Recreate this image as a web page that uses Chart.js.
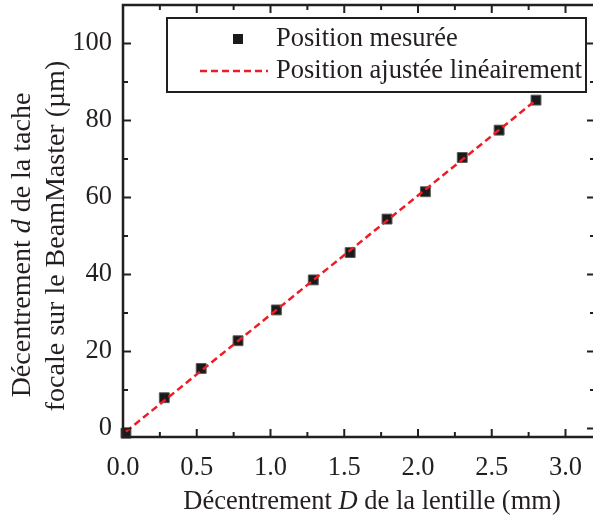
<!DOCTYPE html>
<html lang="fr">
<head>
<meta charset="UTF-8">
<title>Décentrement de la tache focale</title>
<script src="https://cdn.jsdelivr.net/npm/chart.js"></script>
<style>
  html, body { margin: 0; padding: 0; background: #fff; overflow: hidden; }
  /* la mise en page de Chart.js garde 8 px en haut : on remonte le canevas de 3 px */
  #wrap { position: relative; width: 603px; height: 526px; margin-top: -3px; }
</style>
</head>
<body>
<div id="wrap"><canvas id="chart" width="603" height="526"></canvas></div>
<script>
// mesures : D (mm) et d (µm)
const decentrD = [0.02, 0.28, 0.53, 0.78, 1.04, 1.29, 1.54, 1.79, 2.05, 2.30, 2.55, 2.80];
const decentrd = [-1.2, 8.0, 15.6, 22.8, 30.8, 38.6, 45.7, 54.4, 61.5, 70.4, 77.5, 85.3];
// droite ajustée (extrémités)
const fitD = [0.02, 2.80];
const fitd = [-0.8, 85.3];

const xTicks = [0, 0.5, 1.0, 1.5, 2.0, 2.5, 3.0];
const xMinor = [0.25, 0.75, 1.25, 1.75, 2.25, 2.75];
const yTicks = [0, 20, 40, 60, 80, 100];
const yMinor = [10, 30, 50, 70, 90];

const ink = '#231f20';
const serif = "'Liberation Serif', 'Times New Roman', serif";
const fontSize = 26.5;
const yTitleSize = 28;

function richWidth(ctx, parts, size) {
    let w = 0;
    parts.forEach(p => {
        ctx.font = (p.i ? 'italic ' : '') + size + 'px ' + serif;
        w += ctx.measureText(p.t).width;
    });
    return w;
}

function drawRich(ctx, parts, cx, cy, size) {
    let x = cx - richWidth(ctx, parts, size) / 2;
    ctx.textAlign = 'left';
    ctx.textBaseline = 'middle';
    parts.forEach(p => {
        ctx.font = (p.i ? 'italic ' : '') + size + 'px ' + serif;
        ctx.fillText(p.t, x, cy);
        x += ctx.measureText(p.t).width;
    });
}

const framePlugin = {
    id: 'frame',
    afterDraw(chart) {
        const { ctx, chartArea: a, scales } = chart;
        const x = scales.x, y = scales.y;
        ctx.save();
        ctx.strokeStyle = ink;
        ctx.fillStyle = ink;

        // ticks vers l'intérieur, sur les 4 côtés
        ctx.lineWidth = 2;
        const xt = (v, len) => {
            const px = x.getPixelForValue(v);
            ctx.beginPath();
            ctx.moveTo(px, a.bottom); ctx.lineTo(px, a.bottom - len);
            ctx.moveTo(px, a.top); ctx.lineTo(px, a.top + len);
            ctx.stroke();
        };
        const yt = (v, len) => {
            const py = y.getPixelForValue(v);
            ctx.beginPath();
            ctx.moveTo(a.left, py); ctx.lineTo(a.left + len, py);
            ctx.moveTo(a.right, py); ctx.lineTo(a.right - len, py);
            ctx.stroke();
        };
        xTicks.forEach(v => xt(v, 8));
        xMinor.forEach(v => xt(v, 5));
        yTicks.forEach(v => yt(v, 8));
        yMinor.forEach(v => yt(v, 5));

        ctx.lineWidth = 2.5;
        ctx.strokeRect(a.left, a.top, a.right - a.left, a.bottom - a.top);

        // titres des axes
        drawRich(ctx, [
            { t: 'Décentrement ' }, { t: 'D', i: true }, { t: ' de la lentille (mm)' }
        ], 372, a.bottom + 65, fontSize);

        ctx.save();
        ctx.translate(0, a.top + 235);
        ctx.rotate(-Math.PI / 2);
        drawRich(ctx, [
            { t: 'Décentrement ' }, { t: 'd', i: true }, { t: ' de la tache' }
        ], -5, 23, yTitleSize);
        drawRich(ctx, [{ t: 'focale sur le BeamMaster (µm)' }], 4, 57, yTitleSize);
        ctx.restore();

        // légende
        const lx = a.left + 44, ly = a.top + 13, lw = 419, lh = 74;
        ctx.fillStyle = '#fff';
        ctx.fillRect(lx, ly, lw, lh);
        ctx.lineWidth = 2;
        ctx.strokeRect(lx, ly, lw, lh);

        const pts = chart.data.datasets[1];
        ctx.fillStyle = pts.backgroundColor;
        ctx.fillRect(lx + 66, ly + 16, 10, 10);

        const fit = chart.data.datasets[0];
        ctx.strokeStyle = fit.borderColor;
        ctx.lineWidth = fit.borderWidth;
        ctx.setLineDash(fit.borderDash);
        ctx.beginPath();
        ctx.moveTo(lx + 33, ly + 53);
        ctx.lineTo(lx + 101, ly + 53);
        ctx.stroke();
        ctx.setLineDash([]);

        ctx.fillStyle = ink;
        ctx.font = fontSize + 'px ' + serif;
        ctx.textAlign = 'left';
        ctx.textBaseline = 'middle';
        ctx.fillText(pts.label, lx + 109, ly + 21);
        ctx.fillText(fit.label, lx + 109, ly + 53);
        ctx.restore();
    }
};

function draw() {
    new Chart(document.getElementById('chart'), {
        type: 'scatter',
        data: {
            datasets: [
                {
                    type: 'line',
                    label: 'Position ajustée linéairement',
                    data: fitD.map((v, i) => ({ x: v, y: fitd[i] })),
                    borderColor: '#ee1c25',
                    borderWidth: 2.5,
                    borderDash: [7, 4],
                    pointRadius: 0,
                    fill: false,
                    order: 0
                },
                {
                    label: 'Position mesurée',
                    data: decentrD.map((v, i) => ({ x: v, y: decentrd[i] })),
                    pointStyle: 'rect',
                    pointRadius: 7,
                    backgroundColor: '#1a1a1a',
                    borderColor: '#5a5a5a',
                    borderWidth: 1,
                    clip: false,
                    order: 1
                }
            ]
        },
        options: {
            responsive: false,
            animation: false,
            layout: { padding: { top: 2, right: 5, left: 0, bottom: 0 } },
            plugins: { legend: { display: false }, tooltip: { enabled: false } },
            scales: {
                x: {
                    type: 'linear',
                    min: 0, max: 3.2,
                    grid: { display: false, drawTicks: false },
                    border: { display: false },
                    afterBuildTicks: s => { s.ticks = xTicks.map(v => ({ value: v })); },
                    afterFit: s => { s.height = 86; s.paddingLeft = 0; s.paddingRight = 0; },
                    ticks: {
                        color: ink, padding: 15,
                        font: { family: serif, size: fontSize },
                        callback: v => v.toFixed(1)
                    }
                },
                y: {
                    min: -2.2, max: 110,
                    grid: { display: false, drawTicks: false },
                    border: { display: false },
                    afterBuildTicks: s => { s.ticks = yTicks.map(v => ({ value: v })); },
                    afterFit: s => { s.width = 123; s.paddingTop = 0; s.paddingBottom = 0; },
                    ticks: {
                        color: ink, padding: 11,
                        font: { family: serif, size: fontSize }
                    }
                }
            }
        },
        plugins: [framePlugin]
    });
}

Promise.all([
    document.fonts.load("26px 'Liberation Serif'"),
    document.fonts.load("italic 26px 'Liberation Serif'")
]).then(draw, draw);
</script>
</body>
</html>
